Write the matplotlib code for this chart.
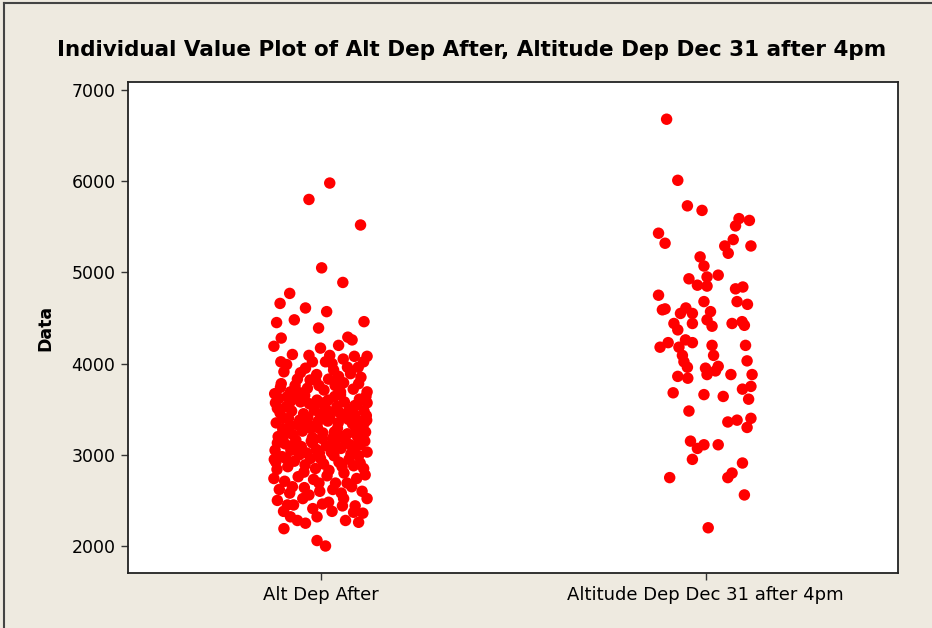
import matplotlib
matplotlib.use("Agg")
import matplotlib.pyplot as plt
from matplotlib.lines import Line2D
import numpy as np

categories = ["Alt Dep After", "Altitude Dep Dec 31 after 4pm"]

# Group 1: Alt Dep After  (jitter offset, value)
g1_jitter = [0.024, -0.030, 0.104, 0.003, 0.058, -0.080, -0.105, -0.039, 0.016, -0.114,
             -0.068, -0.005, 0.113, -0.102, 0.071, 0.082, -0.121, -0.030, -0.021, 0.024,
             0.013, 0.059, 0.088, 0.121, 0.112, -0.103, -0.095, -0.052, -0.060, 0.034,
             0.047, 0.078, -0.013, -0.102, 0.099, -0.119, -0.078, -0.034, 0.009, 0.052,
             0.121, -0.112, -0.052, -0.009, 0.043, 0.095, 0.121, -0.112, -0.069, -0.021,
             0.034, 0.103, 0.121, -0.116, -0.090, 0.000, -0.043, 0.056, 0.103, -0.121,
             -0.073, -0.004, 0.039, 0.069, 0.116, -0.112, -0.030, 0.021, 0.060, 0.121,
             -0.086, -0.078, -0.039, -0.060, -0.009, 0.065, 0.086, 0.099, -0.095, -0.009,
             0.013,
             -0.115, -0.098, -0.083, -0.071, -0.060, -0.047, -0.033, -0.021, -0.008, 0.006,
             0.019, 0.031, 0.044, 0.058, 0.070, 0.083, 0.096, 0.109, 0.120,
             -0.110, -0.092, -0.077, -0.064, -0.050, -0.036, -0.024, -0.011, 0.003, 0.015,
             0.028, 0.041, 0.053, 0.066, 0.079, 0.091, 0.104, 0.117,
             -0.118, -0.105, -0.089, -0.075, -0.062, -0.044, -0.029, -0.016, 0.000, 0.012,
             0.025, 0.037, 0.050, 0.062, 0.075, 0.088, 0.101, 0.113,
             -0.113, -0.100, -0.085, -0.068, -0.055, -0.040, -0.026, -0.013, 0.008, 0.022,
             0.035, 0.048, 0.061, 0.074, 0.086, 0.099, 0.112,
             -0.107, -0.093, -0.080, -0.058, -0.042, -0.018, -0.002, 0.017, 0.032, 0.054,
             0.081, 0.094, 0.108,
             -0.104, -0.086, -0.066, -0.045, -0.027, -0.004, 0.021, 0.038, 0.060, 0.085,
             0.105, 0.118,
             -0.117, -0.097, -0.080, -0.054, -0.031, -0.006, 0.024, 0.046, 0.072, 0.093,
             0.115,
             -0.096, -0.070, -0.046, -0.020, 0.005, 0.030, 0.057, 0.090, 0.110,
             -0.120, -0.039, 0.000, 0.047, 0.098, -0.073, -0.088, 0.070, -0.010, 0.030,
             -0.108, -0.079, -0.041, -0.015, 0.020, 0.052, 0.089, 0.119, -0.063, 0.009,
             0.064, 0.102, -0.091, -0.025, 0.036, 0.077, -0.050, 0.114, -0.003, 0.045]
g1_values = [5980, 5800, 5520, 5050, 4890, 4770, 4660, 4610, 4570, 4450,
             4480, 4390, 4460, 4280, 4290, 4260, 4190, 4090, 4020, 4090,
             4020, 4050, 4080, 4080, 4020, 4020, 3910, 3900, 3830, 3930,
             3860, 3890, 3820, 3780, 3780, 3670, 3690, 3730, 3710, 3690,
             3690, 3510, 3580, 3600, 3530, 3550, 3570, 3130, 3110, 3130,
             3110, 3110, 3030, 2920, 2960, 2960, 2810, 2870, 2910, 2740,
             2650, 2690, 2690, 2690, 2780, 2500, 2560, 2480, 2520, 2520,
             2450, 2320, 2250, 2280, 2320, 2280, 2370, 2260, 2190, 2060,
             2000,
             3350, 3280, 3400, 3220, 3330, 3260, 3410, 3190, 3300, 3240,
             3370, 3180, 3290, 3420, 3230, 3340, 3200, 3310, 3380,
             3200, 3120, 3050, 3160, 3090, 3020, 3150, 3060, 3180, 3100,
             3030, 3170, 3070, 3140, 3010, 3090, 3160, 3250,
             3050, 3460, 3530, 3480, 3620, 3450, 3560, 3490, 3440, 3520,
             3470, 3640, 3460, 3580, 3500, 3440, 3610, 3480,
             2840, 2980, 2870, 2930, 3000, 2890, 2960, 2850, 2900, 2830,
             2990, 2920, 2800, 2950, 2880, 2990, 2850,
             2620, 2710, 2580, 2760, 2640, 2730, 2600, 2770, 2620, 2580,
             2650, 2740, 2600,
             3740, 3640, 3760, 3680, 3820, 3760, 3830, 3760, 3790, 3720,
             3850, 3640,
             3570, 3400, 3310, 3380, 3330, 3370, 3410, 3350, 3390, 3270,
             3150,
             2380, 2450, 2520, 2410, 2460, 2380, 2440, 2440, 2360,
             2950, 3950, 4170, 4200, 3960, 4100, 3990, 3960, 3880, 4000,
             3620, 3580, 3650, 3540, 3600, 3660, 3540, 3430, 3700, 3570,
             3210, 3370, 3230, 3290, 3250, 3110, 3060, 3350, 3020, 3200]

# Group 2: Altitude Dep Dec 31 after 4pm
g2_jitter = [-0.101, -0.072, -0.047, -0.009, -0.122, -0.105, 0.087, 0.114, 0.078, 0.072,
             0.050, 0.059, 0.118, -0.014, -0.004, -0.043, 0.004, 0.033, -0.021, 0.004,
             0.078, 0.097, -0.122, 0.082, 0.109, -0.004, -0.105, -0.051, -0.112, -0.065,
             -0.034, 0.013, -0.082, -0.034, 0.004, 0.017, -0.072, 0.069, 0.095, 0.101,
             -0.118, -0.097, -0.069, -0.052, -0.034, 0.017, 0.021, 0.104, -0.060, -0.056,
             -0.047, 0.000, 0.004, 0.033, 0.026, 0.108, -0.072, -0.046, 0.066, 0.121,
             0.118, 0.096, 0.112, -0.084, -0.004, 0.046, -0.043, 0.058, 0.082, 0.118,
             0.108, -0.039, -0.021, -0.004, 0.033, -0.034, 0.096, -0.093, 0.058, 0.069,
             0.101, 0.007]
g2_values = [6680, 6010, 5730, 5680, 5430, 5320, 5590, 5570, 5510, 5360,
             5290, 5210, 5290, 5170, 5070, 4930, 4950, 4970, 4860, 4850,
             4820, 4840, 4750, 4680, 4650, 4680, 4600, 4610, 4590, 4550,
             4550, 4570, 4440, 4440, 4480, 4410, 4370, 4440, 4460, 4420,
             4180, 4230, 4180, 4260, 4230, 4200, 4090, 4200, 4090, 4020,
             3960, 3950, 3880, 3970, 3920, 4030, 3860, 3840, 3880, 3880,
             3750, 3720, 3610, 3680, 3660, 3640, 3480, 3360, 3380, 3400,
             3300, 3150, 3070, 3110, 3110, 2950, 2910, 2750, 2750, 2800,
             2560, 2200]

y_ticks = [2000, 3000, 4000, 5000, 6000, 7000]

bg = "#EEEAE0"
fig = plt.figure(figsize=(9.32, 6.28), dpi=100, facecolor=bg)
ax = fig.add_axes([128/932, 1 - 573/628, 770/932, (573 - 82)/628])
ax.set_facecolor("white")

x1 = 1 + np.array(g1_jitter)
x2 = 2 + np.array(g2_jitter)
ax.scatter(x1, g1_values, s=68, color="#FF0000", edgecolors="none", zorder=3)
ax.scatter(x2, g2_values, s=68, color="#FF0000", edgecolors="none", zorder=3)

ax.set_xlim(0.5, 2.5)
ax.set_ylim(1704, 7088)
ax.set_xticks([1, 2])
ax.set_xticklabels(categories, fontsize=13)
ax.set_yticks(y_ticks)
ax.set_yticklabels([str(v) for v in y_ticks], fontsize=12.5)
ax.tick_params(direction="out", length=5, width=1, color="#333333", pad=4)
for sp in ax.spines.values():
    sp.set_linewidth(1.3)
    sp.set_color("#222222")

ax.set_ylabel("Data", fontsize=12.5, fontweight="bold", labelpad=12)
fig.text(0.506, 1 - 50/628, "Individual Value Plot of Alt Dep After, Altitude Dep Dec 31 after 4pm",
         ha="center", va="center", fontsize=15.5, fontweight="bold")

# outer frame (left and top edges visible)
fig.add_artist(Line2D([4/932, 4/932], [0, 1 - 3/628], transform=fig.transFigure,
                      color="#444444", linewidth=1.5))
fig.add_artist(Line2D([4/932, 1], [1 - 3/628, 1 - 3/628], transform=fig.transFigure,
                      color="#444444", linewidth=1.5))

fig.savefig("out.png", dpi=100, facecolor=bg)
